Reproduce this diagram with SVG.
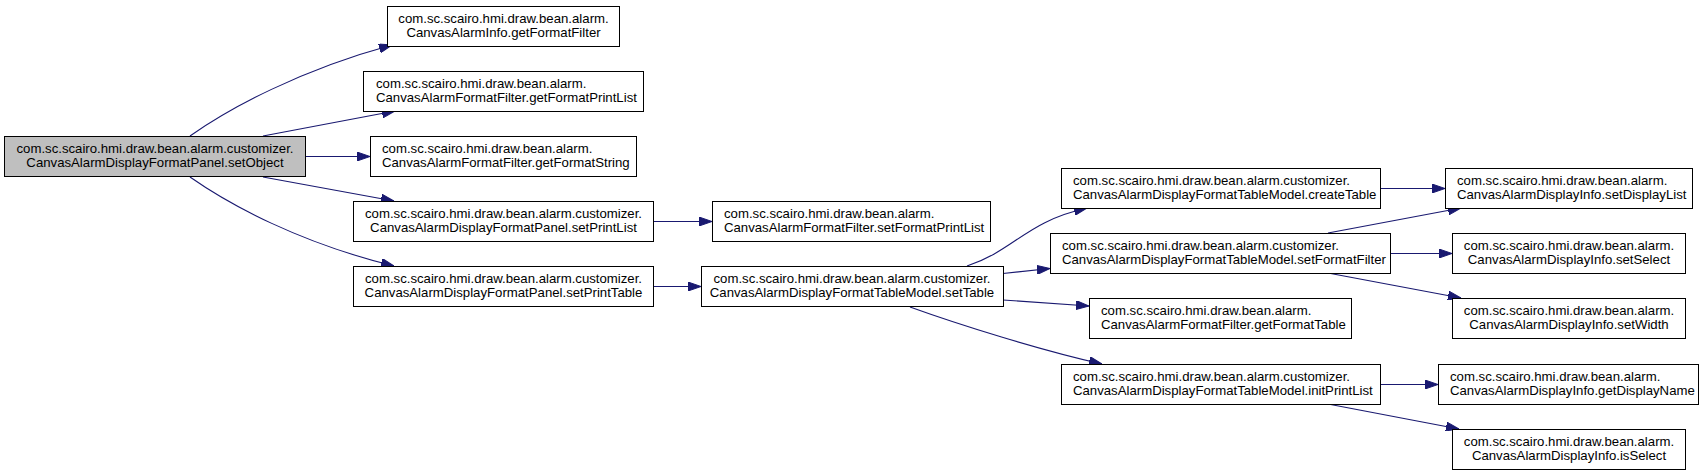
<svg xmlns="http://www.w3.org/2000/svg" width="1704" height="476" viewBox="0 0 1704 476">
<style>
.n rect{fill:#ffffff;stroke:#000000;stroke-width:1}
.root rect{fill:#bfbfbf}
text{font-family:"Liberation Sans",Arial,sans-serif;font-size:13.2px;fill:#000000}
.c{text-anchor:middle}
.e{fill:none;stroke:#191970;stroke-width:1.1;marker-end:url(#arr)}
</style>
<defs>
<marker id="arr" viewBox="0 0 13 9" refX="13" refY="4.5" markerWidth="13" markerHeight="9" markerUnits="userSpaceOnUse" orient="auto">
<path d="M0,0 L13,4.5 L0,9 Z" fill="#191970" stroke="#191970" stroke-width="1"/>
</marker>
</defs>
<rect x="0" y="0" width="1704" height="476" fill="#ffffff"/>
<g id="connectors">
<path class="e" d="M190,136 C230,108 300,70 392,45"/>
<path class="e" d="M263,136 L395,111"/>
<path class="e" d="M305,156.5 L370,156.5"/>
<path class="e" d="M263,177 L394,201"/>
<path class="e" d="M190,177 C230,205 300,243 394,266"/>
<path class="e" d="M653,221.5 L712,221.5"/>
<path class="e" d="M653,286.5 L701,286.5"/>
<path class="e" d="M967,266 C1015,250 1025,222 1087,208"/>
<path class="e" d="M1003,273.5 L1050,268.5"/>
<path class="e" d="M1003,300 L1089,306"/>
<path class="e" d="M910,307 C960,325 1040,350 1102,364"/>
<path class="e" d="M1380,188.5 L1445,188.5"/>
<path class="e" d="M1328,233 L1461,208"/>
<path class="e" d="M1390,253.5 L1452,253.5"/>
<path class="e" d="M1328,273 L1461,298"/>
<path class="e" d="M1380,384.5 L1438,384.5"/>
<path class="e" d="M1328,404 L1459,429"/>
</g>
<g id="node-root" class="n root">
<rect x="4.5" y="136.5" width="301" height="40"/>
<text class="c" x="155" y="153">com.sc.scairo.hmi.draw.bean.alarm.customizer.</text>
<text class="c" x="155" y="167">CanvasAlarmDisplayFormatPanel.setObject</text>
</g>
<g id="node-getFormatFilter" class="n">
<rect x="387.5" y="6.5" width="232" height="40"/>
<text class="c" x="503.5" y="23">com.sc.scairo.hmi.draw.bean.alarm.</text>
<text class="c" x="503.5" y="37">CanvasAlarmInfo.getFormatFilter</text>
</g>
<g id="node-getFormatPrintList" class="n">
<rect x="363.5" y="71.5" width="280" height="40"/>
<text x="376" y="88">com.sc.scairo.hmi.draw.bean.alarm.</text>
<text x="376" y="102">CanvasAlarmFormatFilter.getFormatPrintList</text>
</g>
<g id="node-getFormatString" class="n">
<rect x="370.5" y="136.5" width="266" height="40"/>
<text x="382" y="153">com.sc.scairo.hmi.draw.bean.alarm.</text>
<text x="382" y="167">CanvasAlarmFormatFilter.getFormatString</text>
</g>
<g id="node-setPrintList" class="n">
<rect x="353.5" y="201.5" width="300" height="40"/>
<text class="c" x="503.5" y="218">com.sc.scairo.hmi.draw.bean.alarm.customizer.</text>
<text class="c" x="503.5" y="232">CanvasAlarmDisplayFormatPanel.setPrintList</text>
</g>
<g id="node-setPrintTable" class="n">
<rect x="353.5" y="266.5" width="300" height="40"/>
<text class="c" x="503.5" y="283">com.sc.scairo.hmi.draw.bean.alarm.customizer.</text>
<text class="c" x="503.5" y="297">CanvasAlarmDisplayFormatPanel.setPrintTable</text>
</g>
<g id="node-setFormatPrintList" class="n">
<rect x="712.5" y="201.5" width="278" height="40"/>
<text x="724" y="218">com.sc.scairo.hmi.draw.bean.alarm.</text>
<text x="724" y="232">CanvasAlarmFormatFilter.setFormatPrintList</text>
</g>
<g id="node-setTable" class="n">
<rect x="701.5" y="266.5" width="302" height="40"/>
<text class="c" x="852" y="283">com.sc.scairo.hmi.draw.bean.alarm.customizer.</text>
<text class="c" x="852" y="297">CanvasAlarmDisplayFormatTableModel.setTable</text>
</g>
<g id="node-createTable" class="n">
<rect x="1061.5" y="168.5" width="319" height="40"/>
<text x="1073" y="185">com.sc.scairo.hmi.draw.bean.alarm.customizer.</text>
<text x="1073" y="199">CanvasAlarmDisplayFormatTableModel.createTable</text>
</g>
<g id="node-setFormatFilter" class="n">
<rect x="1050.5" y="233.5" width="340" height="40"/>
<text x="1062" y="250">com.sc.scairo.hmi.draw.bean.alarm.customizer.</text>
<text x="1062" y="264">CanvasAlarmDisplayFormatTableModel.setFormatFilter</text>
</g>
<g id="node-getFormatTable" class="n">
<rect x="1089.5" y="298.5" width="262" height="40"/>
<text x="1101" y="315">com.sc.scairo.hmi.draw.bean.alarm.</text>
<text x="1101" y="329">CanvasAlarmFormatFilter.getFormatTable</text>
</g>
<g id="node-initPrintList" class="n">
<rect x="1061.5" y="364.5" width="319" height="40"/>
<text x="1073" y="381">com.sc.scairo.hmi.draw.bean.alarm.customizer.</text>
<text x="1073" y="395">CanvasAlarmDisplayFormatTableModel.initPrintList</text>
</g>
<g id="node-setDisplayList" class="n">
<rect x="1445.5" y="168.5" width="247" height="40"/>
<text x="1457" y="185">com.sc.scairo.hmi.draw.bean.alarm.</text>
<text x="1457" y="199">CanvasAlarmDisplayInfo.setDisplayList</text>
</g>
<g id="node-setSelect" class="n">
<rect x="1452.5" y="233.5" width="233" height="40"/>
<text class="c" x="1569" y="250">com.sc.scairo.hmi.draw.bean.alarm.</text>
<text class="c" x="1569" y="264">CanvasAlarmDisplayInfo.setSelect</text>
</g>
<g id="node-setWidth" class="n">
<rect x="1452.5" y="298.5" width="233" height="40"/>
<text class="c" x="1569" y="315">com.sc.scairo.hmi.draw.bean.alarm.</text>
<text class="c" x="1569" y="329">CanvasAlarmDisplayInfo.setWidth</text>
</g>
<g id="node-getDisplayName" class="n">
<rect x="1438.5" y="364.5" width="260" height="40"/>
<text x="1450" y="381">com.sc.scairo.hmi.draw.bean.alarm.</text>
<text x="1450" y="395">CanvasAlarmDisplayInfo.getDisplayName</text>
</g>
<g id="node-isSelect" class="n">
<rect x="1452.5" y="429.5" width="233" height="40"/>
<text class="c" x="1569" y="446">com.sc.scairo.hmi.draw.bean.alarm.</text>
<text class="c" x="1569" y="460">CanvasAlarmDisplayInfo.isSelect</text>
</g>
</svg>
